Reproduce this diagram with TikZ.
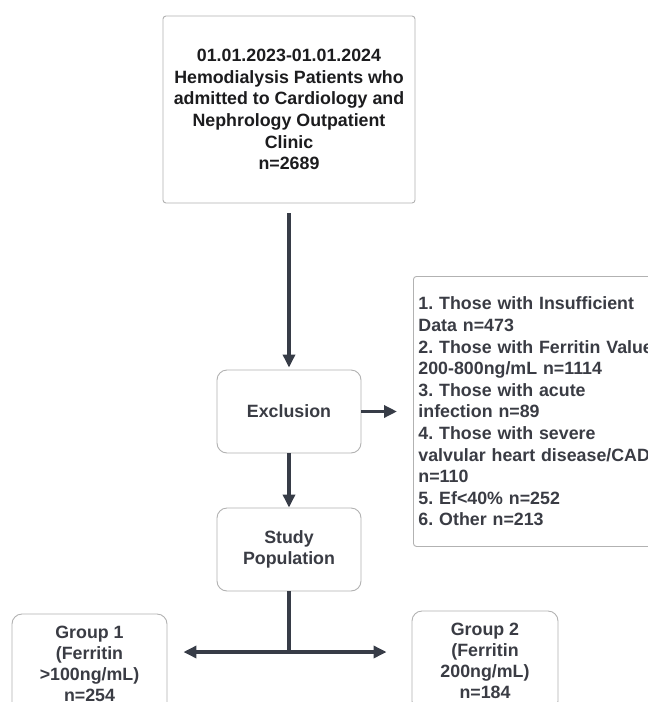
\documentclass[tikz,border=0pt]{standalone}
\usepackage{fontspec}
\setmainfont{Liberation Sans}
\usepackage{tikz}
\usetikzlibrary{arrows.meta}
\frenchspacing
\definecolor{fcdark}{RGB}{55,60,71}
\definecolor{fctext}{RGB}{58,60,68}
\definecolor{fcblack}{RGB}{28,28,30}
\definecolor{fcborder}{RGB}{178,178,178}

\begin{document}
\begin{tikzpicture}[x=1pt, y=-1pt,
    box/.style={draw=fcborder, line width=0.9pt, rounded corners=10pt, align=center,
        text=fctext, inner sep=0pt, font=\bfseries\fontsize{17.8}{21.6}\selectfont},
    flow/.style={draw=fcdark, line width=3.6pt, >={Triangle[length=13pt,width=12pt]}}]
    \useasboundingbox (0,0) rectangle (648,702);
    \clip (0,0) rectangle (648,702);
    \fill[white] (0,0) rectangle (648,702);

    % Cohort
    \node[box, rounded corners=3pt, minimum width=252pt, minimum height=187pt, text=fcblack] (cohort) at (289,109.5)
        {01.01.2023-01.01.2024\\Hemodialysis Patients who\\admitted to Cardiology and\\Nephrology Outpatient\\Clinic\\n=2689};

    % Exclusion and its reasons
    \node[box, minimum width=144pt, minimum height=83pt] (excl) at (289,411.5) {Exclusion};
    \node[box, rounded corners=3pt, anchor=north west, align=left, text width=262pt, minimum height=270pt, inner xsep=5pt] (reasons) at (413,276)
        {1. Those with Insufficient\\Data n=473\\2. Those with Ferritin Value\\200-800ng/mL n=1114\\3. Those with acute\\infection n=89\\4. Those with severe\\valvular heart disease/CAD\\n=110\\5. Ef<40\% n=252\\6. Other n=213};

    % Study population
    \node[box, minimum width=144pt, minimum height=83pt] (study) at (289,549.5) {Study\\Population};

    % Two groups
    \node[box, minimum width=155pt, minimum height=100pt, font=\bfseries\fontsize{17.8}{21}\selectfont] (grpa) at (89.5,664) {Group 1\\(Ferritin\\>100ng/mL)\\n=254};
    \node[box, minimum width=146pt, minimum height=100pt, font=\bfseries\fontsize{17.8}{21}\selectfont] (grpb) at (485,661) {Group 2\\(Ferritin\\200ng/mL)\\n=184};

    % Arrows
    \draw[flow, ->, shorten <=10pt, shorten >=2pt] (cohort) -- (excl);
    \draw[flow, ->, shorten >=16pt] (excl.east) -- (excl.east -| reasons.west);
    \draw[flow, ->] (excl) -- (study);
    \coordinate (split) at (289,652);
    \draw[flow] (study) -- (split);
    \draw[flow, ->, shorten >=16pt] (split) -- (split -| grpa.east);
    \draw[flow, ->, shorten >=25pt] (split) -- (split -| grpb.west);
\end{tikzpicture}
\end{document}
